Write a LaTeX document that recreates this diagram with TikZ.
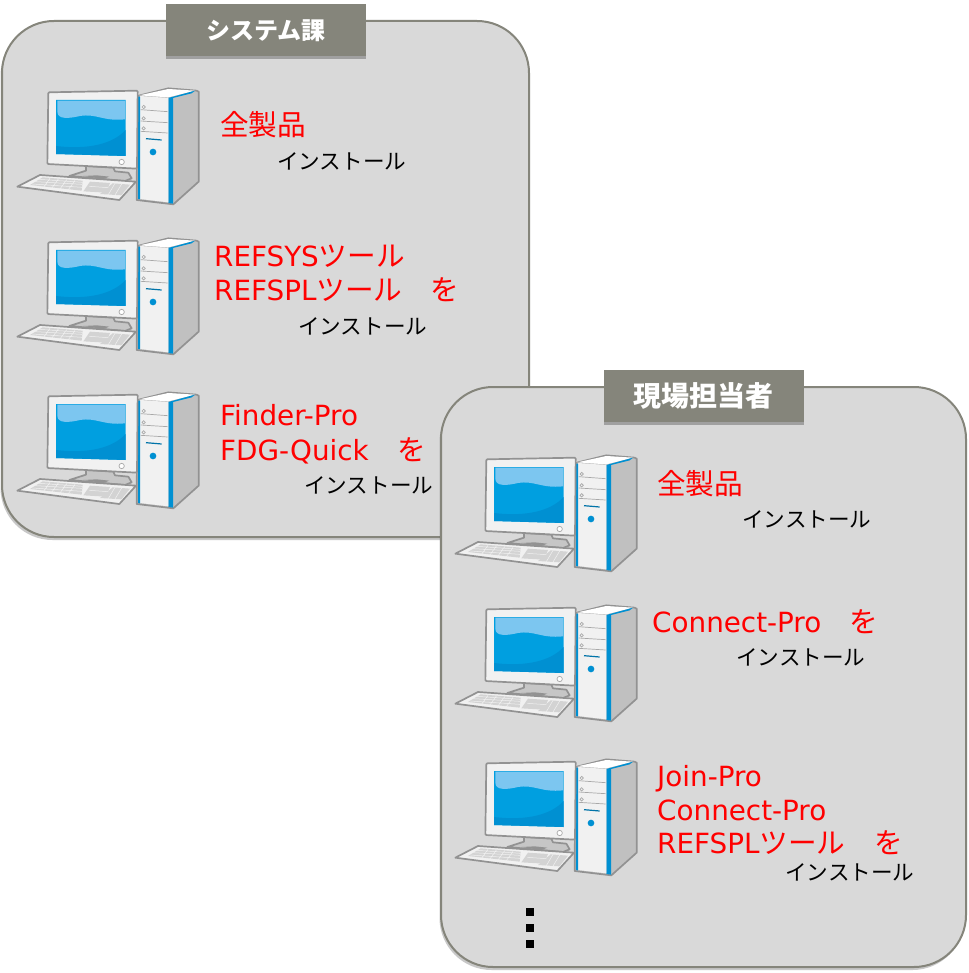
\documentclass[tikz,border=0pt]{standalone}
\usepackage{fontspec}
\setmainfont{DejaVu Sans}
\newfontfamily\cjk{Noto Sans CJK JP}
\newfontfamily\cjkred[Scale=1.03]{Noto Sans CJK JP}
\usetikzlibrary{shadows}
\definecolor{panelfill}{HTML}{D9D9D9}
\definecolor{panelline}{HTML}{85857B}
\definecolor{barfill}{HTML}{85857B}
\definecolor{pcline}{HTML}{929292}
\definecolor{pcblue}{HTML}{009FE0}
\definecolor{pcdeep}{HTML}{0090D2}
\definecolor{pclight}{HTML}{7CC6F0}
\definecolor{pcwhite}{HTML}{F1F1F1}
\definecolor{pcside}{HTML}{C0C0C0}
\definecolor{redtext}{HTML}{FF0000}
\tikzset{
  panel/.style={draw=panelline,line width=2pt,fill=panelfill,rounded corners=52pt,
    drop shadow={shadow xshift=-1.5pt,shadow yshift=-3pt,opacity=.3,fill=black!70}},
  titlebar/.style={fill=barfill,draw=none,inner sep=0pt,minimum width=200pt,minimum height=52pt,
    text=white,font=\cjk\bfseries\fontsize{28}{28}\selectfont,
    drop shadow={shadow xshift=0pt,shadow yshift=-3pt,opacity=.4,fill=black!70}},
  redlabel/.style={anchor=base west,inner sep=0pt,text=redtext,font=\fontsize{27.8}{27.8}\selectfont},
  blacklabel/.style={anchor=base west,inner sep=0pt,text=black,font=\cjk\fontsize{21.6}{21.6}\selectfont},
  dotmark/.style={fill=black,draw=none,inner sep=0pt,minimum size=8.5pt},
  pcedge/.style={draw=pcline,line width=1.7pt,line join=round},
  pcthin/.style={draw=pcline!80,line width=.7pt}
}
\newcommand{\pcicon}[2]{%
\begin{scope}[shift={(#1,#2+70)},x=0.33333pt,y=-0.33333pt]
  % tower
  \path[pcedge,fill=pcside] (412,78)--(505,55)--(590,62)--(596,65)--(596,335)--(520,403)--(410,390)--cycle;
  \fill[white] (418,76)--(505,57)--(585,62)--(505,82)--cycle;
  \fill[pcdeep] (505,84)--(585,62)--(575,70)--(519,84)--cycle;
  \fill[pcdeep] (505,84)--(519,84)--(519,401)--(505,399)--cycle;
  \fill[pcwhite] (420,78)--(505,84)--(505,397)--(420,387)--cycle;
  \fill[pcdeep] (414,80)--(420,80)--(420,388)--(414,387)--cycle;
  \draw[pcthin] (422,119)--(503,125) (422,153)--(503,158) (422,184)--(503,189);
  \draw[pcthin,fill=pcwhite] (431,111) circle (5) (431,145) circle (5) (431,175) circle (5);
  \draw[pcdeep!80!black,line width=1.2pt] (438,206)--(485,210);
  \fill[pcdeep] (459,246) circle (10);
  % stand
  \path[pcedge,fill=pcside!90!white] (258,288)--(340,293)--(345,304)--(385,308)--(395,325)--(375,333)--(208,318)--(258,302)--cycle;
  \fill[pcline] (250,318)--(290,316)--(328,320)--(310,327)--cycle;
  % monitor
  \path[pcedge,fill=pcwhite,rounded corners=1pt] (145,67)--(413,62)--(411,296)--(142,282)--cycle;
  \fill[pcblue] (168,90)--(377,90)--(377,258)--(168,252)--cycle;
  \fill[pcdeep] (168,228) .. controls (270,240) and (340,220) .. (377,180)--(377,258)--(168,252)--cycle;
  \fill[pclight] (172,92)--(375,92)--(375,148) .. controls (310,155) and (290,130) .. (240,138) .. controls (210,145) and (172,150) .. (172,125)--cycle;
  \draw[pcthin,fill=white] (365,276) circle (8);
  % keyboard
  \path[pcedge,fill=pcwhite] (52,350)--(120,315)--(408,335)--(358,390)--cycle;
  \fill[pcside!70!white] (90,345)--(128,322)--(248,332)--(245,362)--cycle;
  \fill[pcside!70!white] (270,335)--(330,339)--(318,368)--(250,364)--cycle;
  \fill[pcside!70!white] (338,340)--(390,344)--(364,376)--(300,372)--cycle;
  \draw[pcwhite,line width=.5pt] (106,335)--(246,343) (97,342)--(246,352) (116,328)--(248,337)
    (150,325)--(130,353) (175,327)--(155,355) (200,329)--(180,357) (225,331)--(205,359)
    (268,349)--(325,353) (345,340)--(325,374) (365,342)--(345,375);
\end{scope}}
\begin{document}
\begin{tikzpicture}[x=1pt,y=-1pt]
\useasboundingbox (0,0) rectangle (968,973);
\fill[white] (0,0) rectangle (968,973);

\path[panel] (2,21) rectangle (529,537);
\node[titlebar,font=\cjk\bfseries\fontsize{24}{24}\selectfont] (titleA) at (266,30.5) {システム課};
\pcicon{0}{0}
\pcicon{0}{150}
\pcicon{0}{304}
\node[redlabel] (a1) at (220,136) {\cjkred 全製品};
\node[blacklabel] (a1i) at (277,170) {インストール};
\node[redlabel] (a2) at (214,266) {REFSYS{\cjkred ツール}};
\node[redlabel] (a2b) at (214,300) {REFSPL{\cjkred ツール\hspace{1em}を}};
\node[blacklabel] (a2i) at (298,334) {インストール};
\node[redlabel] (a3) at (220,425) {Finder-Pro};
\node[redlabel] (a3b) at (220,460) {FDG-Quick{\cjkred \hspace{1em}を}};
\node[blacklabel] (a3i) at (304,493) {インストール};

\path[panel] (441,387) rectangle (966,967);
\node[titlebar] (titleB) at (703.5,395.5) {現場担当者};
\pcicon{438}{367}
\pcicon{438}{517}
\pcicon{438}{671}
\node[redlabel] (b1) at (657,494) {\cjkred 全製品};
\node[blacklabel] (b1i) at (742,527) {インストール};
\node[redlabel] (b2) at (652,632) {Connect-Pro{\cjkred \hspace{1em}を}};
\node[blacklabel] (b2i) at (736,665) {インストール};
\node[redlabel] (b3) at (657,786) {Join-Pro};
\node[redlabel] (b3b) at (657,820) {Connect-Pro};
\node[redlabel] (b3c) at (657,853) {REFSPL{\cjkred ツール\hspace{1em}を}};
\node[blacklabel] (b3i) at (785,880) {インストール};
\node[dotmark] (d1) at (530,912) {};
\node[dotmark] (d2) at (530,928) {};
\node[dotmark] (d3) at (530,944) {};
\end{tikzpicture}
\end{document}
